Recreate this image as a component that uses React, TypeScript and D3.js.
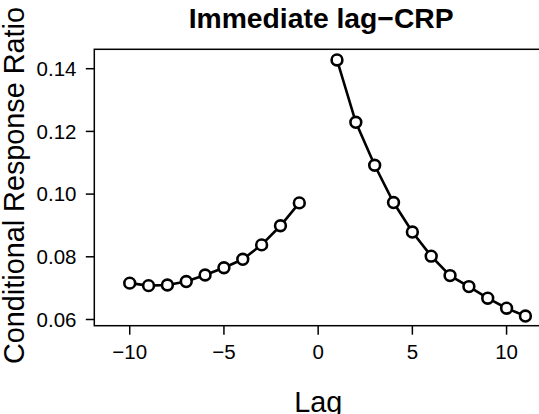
import React from "react";
import * as d3 from "d3";

const negLags = [-10, -9, -8, -7, -6, -5, -4, -3, -2, -1];
const negValues = [0.0716, 0.0708, 0.071, 0.0721, 0.0742, 0.0765, 0.0792, 0.0838, 0.0899, 0.0972];
const posLags = [1, 2, 3, 4, 5, 6, 7, 8, 9, 10, 11];
const posValues = [0.1428, 0.1229, 0.1092, 0.0973, 0.0879, 0.0802, 0.074, 0.0705, 0.0668, 0.0636, 0.0611];
const xTicks = [-10, -5, 0, 5, 10];
const yTicks = [0.06, 0.08, 0.1, 0.12, 0.14];
const title = "Immediate lag\u2212CRP";
const xLabel = "Lag";
const yLabel = "Conditional Response Ratio";

const W = 539;
const H = 414;
const left = 94.3;
const right = 542;
const top = 49.3;
const bottom = 325.7;

const font = "'Liberation Sans', Arial, Helvetica, sans-serif";

export default function App() {
  const x = d3.scaleLinear().domain([-11.88, 11.88]).range([left, right]);
  const y = d3.scaleLinear().domain([0.05802, 0.14619]).range([bottom, top]);
  const line = d3
    .line<[number, number]>()
    .x((d) => x(d[0]))
    .y((d) => y(d[1]));
  const neg: [number, number][] = negLags.map((l, i) => [l, negValues[i]]);
  const pos: [number, number][] = posLags.map((l, i) => [l, posValues[i]]);
  const fmtX = (v: number) => (v < 0 ? "\u2212" + Math.abs(v) : String(v));
  const fmtY = d3.format(".2f");
  const cy = (top + bottom) / 2;
  const cx = (left + right) / 2;

  return (
    <svg
      width={W}
      height={H}
      style={{ position: "absolute", left: 0, top: 0, background: "#fff" }}
      fontFamily={font}
    >
      <rect x={0} y={0} width={W} height={H} fill="#fff" />
      <text x={cx + 3} y={28} textAnchor="middle" fontWeight="bold" fontSize={28.3} fill="#000">
        {title}
      </text>
      <rect x={left} y={top} width={right - left} height={bottom - top} fill="none" stroke="#000" strokeWidth={1.5} />
      {xTicks.map((t) => (
        <g key={"x" + t}>
          <line x1={x(t)} x2={x(t)} y1={bottom} y2={bottom + 9} stroke="#000" strokeWidth={1.5} />
          <text x={x(t)} y={359} textAnchor="middle" fontSize={20.5} fill="#000">
            {fmtX(t)}
          </text>
        </g>
      ))}
      {yTicks.map((t) => (
        <g key={"y" + t}>
          <line x1={left - 8.5} x2={left} y1={y(t)} y2={y(t)} stroke="#000" strokeWidth={1.5} />
          <text x={76.5} y={y(t)} dy="0.36em" textAnchor="end" fontSize={20.5} fill="#000">
            {fmtY(t)}
          </text>
        </g>
      ))}
      <text x={cx} y={412} textAnchor="middle" fontSize={28.8} fill="#000">
        {xLabel}
      </text>
      <text
        transform={`translate(24,${cy - 2}) rotate(-90)`}
        textAnchor="middle"
        fontSize={28.8}
        fill="#000"
      >
        {yLabel}
      </text>
      <path d={line(neg) || ""} fill="none" stroke="#000" strokeWidth={2.6} />
      <path d={line(pos) || ""} fill="none" stroke="#000" strokeWidth={2.6} />
      {[...neg, ...pos].map((d, i) => (
        <circle key={i} cx={x(d[0])} cy={y(d[1])} r={5.4} fill="#fff" stroke="#000" strokeWidth={2.6} />
      ))}
    </svg>
  );
}
